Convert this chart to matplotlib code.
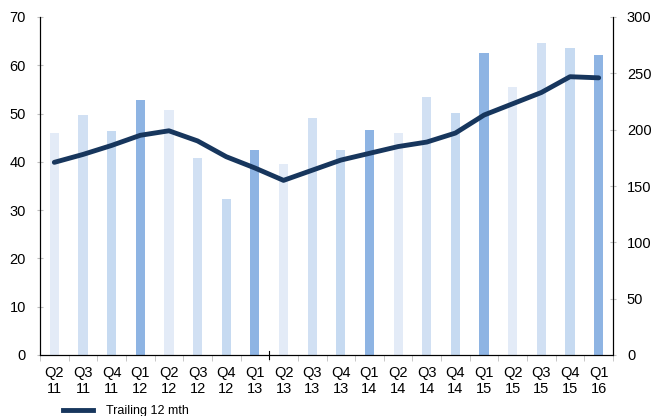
import numpy as np
import matplotlib
matplotlib.use("Agg")
import matplotlib.pyplot as plt
from matplotlib.lines import Line2D

plt.rcParams["font.family"] = ["Liberation Sans", "DejaVu Sans"]

quarters = ["Q2", "Q3", "Q4", "Q1", "Q2", "Q3", "Q4", "Q1", "Q2", "Q3",
            "Q4", "Q1", "Q2", "Q3", "Q4", "Q1", "Q2", "Q3", "Q4", "Q1"]
years = ["11", "11", "11", "12", "12", "12", "12", "13", "13", "13",
         "13", "14", "14", "14", "14", "15", "15", "15", "15", "16"]

# quarterly values (left axis)
quarterly = [46.0, 49.8, 46.3, 52.9, 50.8, 40.7, 32.3, 42.5, 39.5, 49.1,
             42.5, 46.6, 46.0, 53.4, 50.2, 62.6, 55.6, 64.6, 63.6, 62.2]
# trailing 12 mth (right axis)
trailing = [171, 178, 186, 195, 199, 190, 176, 166, 155, 164,
            173, 179, 185, 189, 197, 213, 223, 233, 247, 246]

q_colors = {"Q1": "#8EB4E3", "Q2": "#E3EBF7", "Q3": "#D1E0F3", "Q4": "#C6DAF1"}

fig = plt.figure(figsize=(6.51, 4.16), dpi=100)
ax = fig.add_axes([40 / 651, 1 - 355 / 416, 573 / 651, 338 / 416])
ax2 = ax.twinx()

x = np.arange(len(quarters))
ax.bar(x, quarterly, width=0.32, color=[q_colors[q] for q in quarters], zorder=2)
ax2.plot(x, trailing, color="#17365D", lw=3.5, solid_capstyle="round", zorder=3)

ax.set_xlim(-0.5, len(quarters) - 0.5)
ax.set_ylim(0, 70)
ax2.set_ylim(0, 300)
ax.set_yticks(range(0, 71, 10))
ax2.set_yticks(range(0, 301, 50))

ax.set_xticks(x)
ax.set_xticklabels([f"{q}\n{y}" for q, y in zip(quarters, years)], fontsize=10.5,
                   linespacing=1.2)
ax.set_xticks(np.arange(-0.5, len(quarters), 1), minor=True)
ax.tick_params(axis="x", which="major", length=0, pad=8)
ax.tick_params(axis="x", which="minor", length=4, color="#BFBFBF")

ax.tick_params(axis="y", labelsize=10.5, length=4, color="#BFBFBF",
               direction="inout", pad=8)
ax2.tick_params(axis="y", labelsize=10.5, length=4, color="#BFBFBF",
                direction="inout", pad=8)

for a in (ax, ax2):
    a.spines["top"].set_visible(False)
    a.spines["left"].set_color("black")
    a.spines["right"].set_color("black")
    a.spines["bottom"].set_color("black")

# small tick crossing the axis between Q1 13 and Q2 13
ax.plot([7.5, 7.5], [-0.8, 0.8], color="black", lw=0.8, clip_on=False, zorder=4)

handle = Line2D([], [], color="#17365D", lw=3.5)
fig.legend([handle], ["Trailing 12 mth"], loc="center left",
           bbox_to_anchor=(63 / 651, 1 - 411 / 416), frameon=False, fontsize=9,
           handlelength=2.4, handletextpad=1.0, borderpad=0, borderaxespad=0)

fig.savefig("out.png", dpi=100)
